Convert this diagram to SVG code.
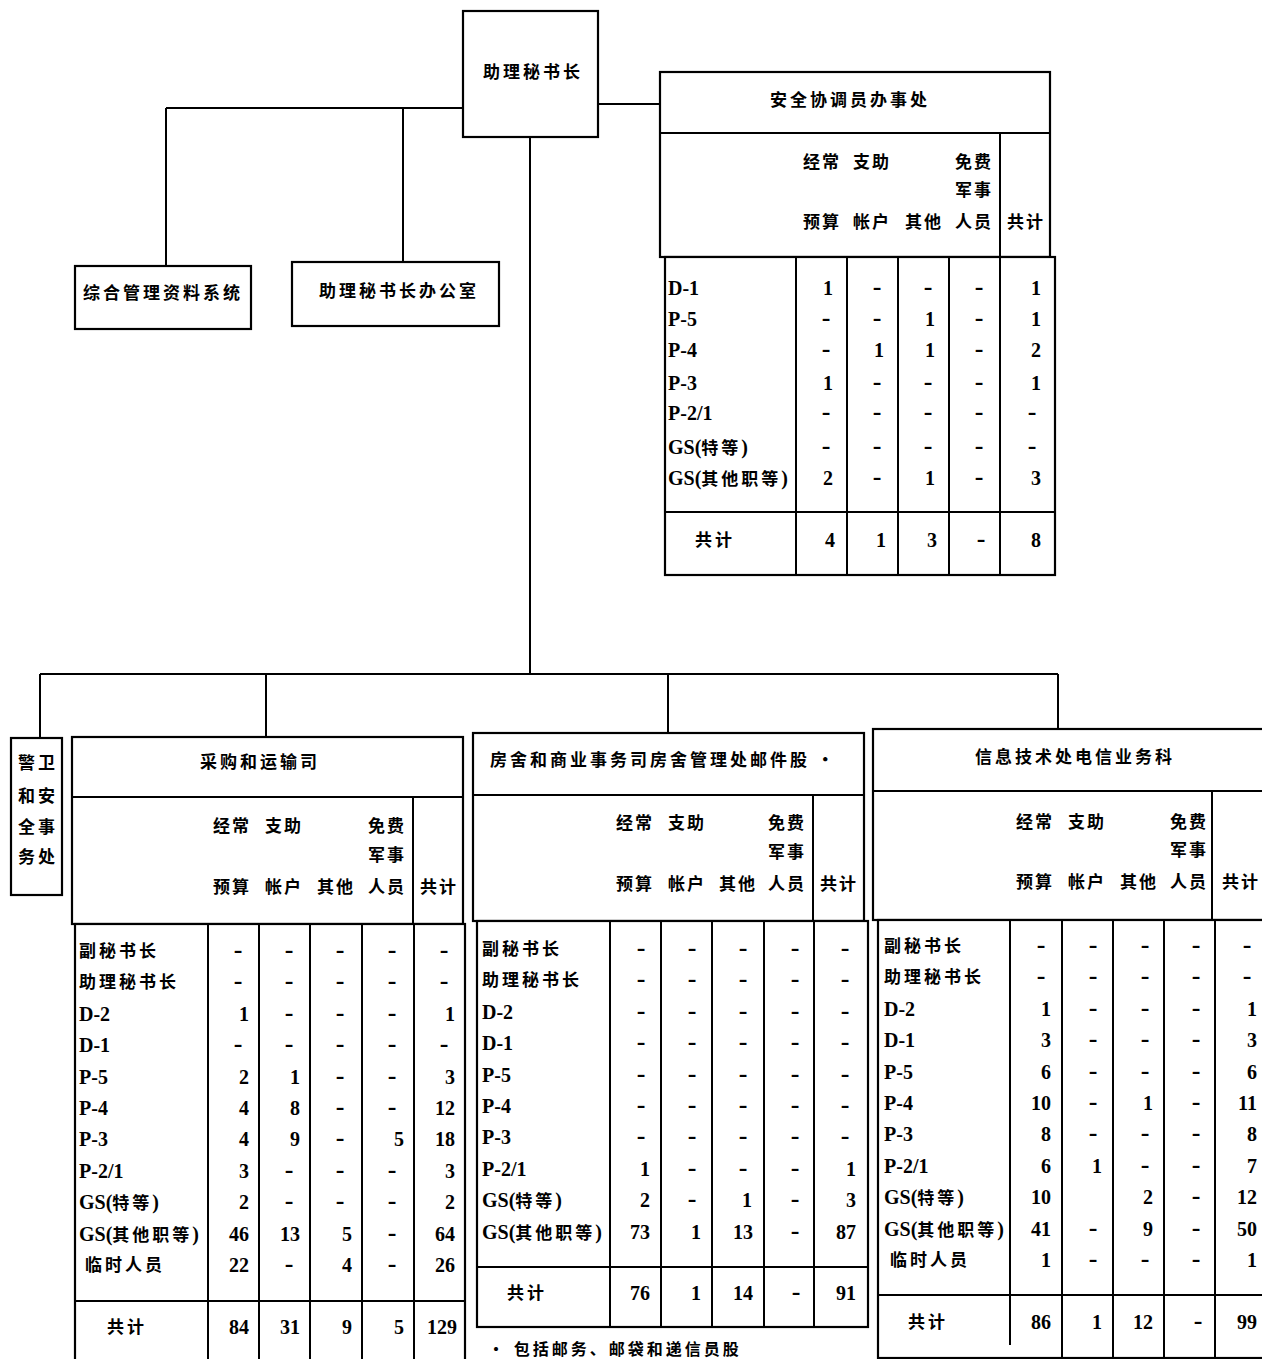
<svg xmlns="http://www.w3.org/2000/svg" width="1262" height="1359" viewBox="0 0 1262 1359">
<style>
.bg{fill:#fff}
.bx{fill:#fff;stroke:#000;stroke-width:2.2}
.ln{stroke:#000;stroke-width:2;fill:none}
.cj{font-family:"Noto Sans CJK SC",sans-serif;font-weight:700;font-size:17px;letter-spacing:3px;fill:#000}
.hd{font-family:"Noto Sans CJK SC",sans-serif;font-weight:700;font-size:17px;letter-spacing:2px;fill:#000}
.mn{font-family:"Liberation Serif","Noto Sans CJK SC",serif;font-weight:700;font-size:20px;fill:#000}
.mn tspan.c{font-family:"Noto Sans CJK SC",sans-serif;font-size:17px;letter-spacing:3px}
.e{text-anchor:end}
.m{text-anchor:middle;font-size:26px}
.fn{font-family:"Noto Sans CJK SC",sans-serif;font-weight:700;font-size:16px;letter-spacing:3px;fill:#000}
</style>
<rect class="bg" x="0" y="0" width="1262" height="1359"/>

<g id="connectors">
<path class="ln" d="M166 108 H463 M166 108 V266 M403 108 V262"/>
<path class="ln" d="M598 104 H660"/>
<path class="ln" d="M530 137 V674"/>
<path class="ln" d="M40 674 H1058 M40 674 V738 M266 674 V737 M668 674 V733 M1058 674 V729"/>
</g>

<g id="asg">
<rect class="bx" x="463" y="11" width="135" height="126"/>
<text class="cj" x="483" y="78">助理秘书长</text>
</g>

<g id="imis">
<rect class="bx" x="75" y="266" width="176" height="63"/>
<text class="cj" x="83" y="299">综合管理资料系统</text>
</g>

<g id="asg-office">
<rect class="bx" x="292" y="262" width="207" height="64"/>
<text class="cj" x="319" y="297">助理秘书长办公室</text>
</g>

<g id="security-coord">
<rect class="bx" x="660" y="72" width="390" height="185"/>
<path class="ln" d="M660 133 H1050 M1000 133 V257"/>
<text class="cj" x="770" y="106">安全协调员办事处</text>
<text class="hd" x="803" y="168">经常</text><text class="hd" x="853" y="168">支助</text><text class="hd" x="955" y="168">免费</text>
<text class="hd" x="955" y="196">军事</text>
<text class="hd" x="803" y="228">预算</text><text class="hd" x="853" y="228">帐户</text><text class="hd" x="905" y="228">其他</text><text class="hd" x="955" y="228">人员</text><text class="hd" x="1007" y="228">共计</text>
<rect class="bx" x="665" y="257" width="390" height="318"/>
<path class="ln" d="M796 257 V575 M847 257 V575 M898 257 V575 M949 257 V575 M1000 257 V575 M665 512 H1055"/>
<text class="mn" x="668" y="295">D-1</text>
<text class="mn" x="668" y="326">P-5</text>
<text class="mn" x="668" y="357">P-4</text>
<text class="mn" x="668" y="390">P-3</text>
<text class="mn" x="668" y="420">P-2/1</text>
<text class="mn" x="668" y="454">GS(<tspan class="c">特等</tspan>)</text>
<text class="mn" x="668" y="485">GS(<tspan class="c">其他职等</tspan>)</text>
<text class="cj" x="695" y="546">共计</text>
<g class="mn">
<text class="e" x="833" y="295">1</text><text class="m" x="877" y="295">-</text><text class="m" x="928" y="295">-</text><text class="m" x="979" y="295">-</text><text class="e" x="1041" y="295">1</text>
<text class="m" x="826" y="326">-</text><text class="m" x="877" y="326">-</text><text class="e" x="935" y="326">1</text><text class="m" x="979" y="326">-</text><text class="e" x="1041" y="326">1</text>
<text class="m" x="826" y="357">-</text><text class="e" x="884" y="357">1</text><text class="e" x="935" y="357">1</text><text class="m" x="979" y="357">-</text><text class="e" x="1041" y="357">2</text>
<text class="e" x="833" y="390">1</text><text class="m" x="877" y="390">-</text><text class="m" x="928" y="390">-</text><text class="m" x="979" y="390">-</text><text class="e" x="1041" y="390">1</text>
<text class="m" x="826" y="420">-</text><text class="m" x="877" y="420">-</text><text class="m" x="928" y="420">-</text><text class="m" x="979" y="420">-</text><text class="m" x="1032" y="420">-</text>
<text class="m" x="826" y="454">-</text><text class="m" x="877" y="454">-</text><text class="m" x="928" y="454">-</text><text class="m" x="979" y="454">-</text><text class="m" x="1032" y="454">-</text>
<text class="e" x="833" y="485">2</text><text class="m" x="877" y="485">-</text><text class="e" x="935" y="485">1</text><text class="m" x="979" y="485">-</text><text class="e" x="1041" y="485">3</text>
<text class="e" x="835" y="547">4</text><text class="e" x="886" y="547">1</text><text class="e" x="937" y="547">3</text><text class="m" x="981" y="547">-</text><text class="e" x="1041" y="547">8</text>
</g>
</g>

<g id="security-safety">
<rect class="bx" x="11" y="738" width="51" height="157"/>
<text class="cj" x="18" y="769">警卫</text>
<text class="cj" x="18" y="802">和安</text>
<text class="cj" x="18" y="833">全事</text>
<text class="cj" x="18" y="863">务处</text>
</g>

<g id="procurement">
<rect class="bx" x="72" y="737" width="391" height="187"/>
<path class="ln" d="M72 797 H463 M413 797 V924"/>
<text class="cj" x="200" y="768">采购和运输司</text>
<text class="hd" x="213" y="832">经常</text><text class="hd" x="265" y="832">支助</text><text class="hd" x="368" y="832">免费</text>
<text class="hd" x="368" y="861">军事</text>
<text class="hd" x="213" y="893">预算</text><text class="hd" x="265" y="893">帐户</text><text class="hd" x="317" y="893">其他</text><text class="hd" x="368" y="893">人员</text><text class="hd" x="420" y="893">共计</text>
<rect class="bx" x="75" y="924" width="390" height="445"/>
<path class="ln" d="M208 924 V1369 M259 924 V1369 M310 924 V1369 M362 924 V1369 M414 924 V1369 M75 1301 H465"/>
<text class="cj" x="79" y="957">副秘书长</text>
<text class="cj" x="79" y="988">助理秘书长</text>
<text class="mn" x="79" y="1021">D-2</text>
<text class="mn" x="79" y="1052">D-1</text>
<text class="mn" x="79" y="1084">P-5</text>
<text class="mn" x="79" y="1115">P-4</text>
<text class="mn" x="79" y="1146">P-3</text>
<text class="mn" x="79" y="1178">P-2/1</text>
<text class="mn" x="79" y="1209">GS(<tspan class="c">特等</tspan>)</text>
<text class="mn" x="79" y="1241">GS(<tspan class="c">其他职等</tspan>)</text>
<text class="cj" x="85" y="1271">临时人员</text>
<text class="cj" x="107" y="1333">共计</text>
<g class="mn">
<text class="m" x="238" y="958">-</text><text class="m" x="289" y="958">-</text><text class="m" x="340" y="958">-</text><text class="m" x="392" y="958">-</text><text class="m" x="444" y="958">-</text>
<text class="m" x="238" y="989">-</text><text class="m" x="289" y="989">-</text><text class="m" x="340" y="989">-</text><text class="m" x="392" y="989">-</text><text class="m" x="444" y="989">-</text>
<text class="e" x="249" y="1021">1</text><text class="m" x="289" y="1021">-</text><text class="m" x="340" y="1021">-</text><text class="m" x="392" y="1021">-</text><text class="e" x="455" y="1021">1</text>
<text class="m" x="238" y="1052">-</text><text class="m" x="289" y="1052">-</text><text class="m" x="340" y="1052">-</text><text class="m" x="392" y="1052">-</text><text class="m" x="444" y="1052">-</text>
<text class="e" x="249" y="1084">2</text><text class="e" x="300" y="1084">1</text><text class="m" x="340" y="1084">-</text><text class="m" x="392" y="1084">-</text><text class="e" x="455" y="1084">3</text>
<text class="e" x="249" y="1115">4</text><text class="e" x="300" y="1115">8</text><text class="m" x="340" y="1115">-</text><text class="m" x="392" y="1115">-</text><text class="e" x="455" y="1115">12</text>
<text class="e" x="249" y="1146">4</text><text class="e" x="300" y="1146">9</text><text class="m" x="340" y="1146">-</text><text class="e" x="404" y="1146">5</text><text class="e" x="455" y="1146">18</text>
<text class="e" x="249" y="1178">3</text><text class="m" x="289" y="1178">-</text><text class="m" x="340" y="1178">-</text><text class="m" x="392" y="1178">-</text><text class="e" x="455" y="1178">3</text>
<text class="e" x="249" y="1209">2</text><text class="m" x="289" y="1209">-</text><text class="m" x="340" y="1209">-</text><text class="m" x="392" y="1209">-</text><text class="e" x="455" y="1209">2</text>
<text class="e" x="249" y="1241">46</text><text class="e" x="300" y="1241">13</text><text class="e" x="352" y="1241">5</text><text class="m" x="392" y="1241">-</text><text class="e" x="455" y="1241">64</text>
<text class="e" x="249" y="1272">22</text><text class="m" x="289" y="1272">-</text><text class="e" x="352" y="1272">4</text><text class="m" x="392" y="1272">-</text><text class="e" x="455" y="1272">26</text>
<text class="e" x="249" y="1334">84</text><text class="e" x="300" y="1334">31</text><text class="e" x="352" y="1334">9</text><text class="e" x="404" y="1334">5</text><text class="e" x="457" y="1334">129</text>
</g>
</g>

<g id="mail-unit">
<rect class="bx" x="473" y="733" width="391" height="188"/>
<path class="ln" d="M473 795 H864 M813 795 V921"/>
<text class="cj" x="490" y="766">房舍和商业事务司房舍管理处邮件股 •</text>
<text class="hd" x="616" y="829">经常</text><text class="hd" x="668" y="829">支助</text><text class="hd" x="768" y="829">免费</text>
<text class="hd" x="768" y="858">军事</text>
<text class="hd" x="616" y="890">预算</text><text class="hd" x="668" y="890">帐户</text><text class="hd" x="719" y="890">其他</text><text class="hd" x="768" y="890">人员</text><text class="hd" x="820" y="890">共计</text>
<rect class="bx" x="477" y="921" width="391" height="406"/>
<path class="ln" d="M610 921 V1327 M661 921 V1327 M712 921 V1327 M764 921 V1327 M814 921 V1327 M477 1267 H868"/>
<text class="cj" x="482" y="955">副秘书长</text>
<text class="cj" x="482" y="986">助理秘书长</text>
<text class="mn" x="482" y="1019">D-2</text>
<text class="mn" x="482" y="1050">D-1</text>
<text class="mn" x="482" y="1082">P-5</text>
<text class="mn" x="482" y="1113">P-4</text>
<text class="mn" x="482" y="1144">P-3</text>
<text class="mn" x="482" y="1176">P-2/1</text>
<text class="mn" x="482" y="1207">GS(<tspan class="c">特等</tspan>)</text>
<text class="mn" x="482" y="1239">GS(<tspan class="c">其他职等</tspan>)</text>
<text class="cj" x="507" y="1299">共计</text>
<g class="mn">
<text class="m" x="641" y="956">-</text><text class="m" x="692" y="956">-</text><text class="m" x="743" y="956">-</text><text class="m" x="795" y="956">-</text><text class="m" x="845" y="956">-</text>
<text class="m" x="641" y="987">-</text><text class="m" x="692" y="987">-</text><text class="m" x="743" y="987">-</text><text class="m" x="795" y="987">-</text><text class="m" x="845" y="987">-</text>
<text class="m" x="641" y="1019">-</text><text class="m" x="692" y="1019">-</text><text class="m" x="743" y="1019">-</text><text class="m" x="795" y="1019">-</text><text class="m" x="845" y="1019">-</text>
<text class="m" x="641" y="1050">-</text><text class="m" x="692" y="1050">-</text><text class="m" x="743" y="1050">-</text><text class="m" x="795" y="1050">-</text><text class="m" x="845" y="1050">-</text>
<text class="m" x="641" y="1082">-</text><text class="m" x="692" y="1082">-</text><text class="m" x="743" y="1082">-</text><text class="m" x="795" y="1082">-</text><text class="m" x="845" y="1082">-</text>
<text class="m" x="641" y="1113">-</text><text class="m" x="692" y="1113">-</text><text class="m" x="743" y="1113">-</text><text class="m" x="795" y="1113">-</text><text class="m" x="845" y="1113">-</text>
<text class="m" x="641" y="1144">-</text><text class="m" x="692" y="1144">-</text><text class="m" x="743" y="1144">-</text><text class="m" x="795" y="1144">-</text><text class="m" x="845" y="1144">-</text>
<text class="e" x="650" y="1176">1</text><text class="m" x="692" y="1176">-</text><text class="m" x="743" y="1176">-</text><text class="m" x="795" y="1176">-</text><text class="e" x="856" y="1176">1</text>
<text class="e" x="650" y="1207">2</text><text class="m" x="692" y="1207">-</text><text class="e" x="752" y="1207">1</text><text class="m" x="795" y="1207">-</text><text class="e" x="856" y="1207">3</text>
<text class="e" x="650" y="1239">73</text><text class="e" x="701" y="1239">1</text><text class="e" x="753" y="1239">13</text><text class="m" x="795" y="1239">-</text><text class="e" x="856" y="1239">87</text>
<text class="e" x="650" y="1300">76</text><text class="e" x="701" y="1300">1</text><text class="e" x="753" y="1300">14</text><text class="m" x="796" y="1300">-</text><text class="e" x="856" y="1300">91</text>
</g>
</g>

<g id="telecom">
<rect class="bx" x="873" y="729" width="400" height="191"/>
<path class="ln" d="M873 791 H1273 M1212 791 V920"/>
<text class="cj" x="975" y="763">信息技术处电信业务科</text>
<text class="hd" x="1016" y="828">经常</text><text class="hd" x="1068" y="828">支助</text><text class="hd" x="1170" y="828">免费</text>
<text class="hd" x="1170" y="856">军事</text>
<text class="hd" x="1016" y="888">预算</text><text class="hd" x="1068" y="888">帐户</text><text class="hd" x="1120" y="888">其他</text><text class="hd" x="1170" y="888">人员</text><text class="hd" x="1222" y="888">共计</text>
<rect class="bx" x="878" y="920" width="400" height="438"/>
<path class="ln" d="M1010 920 V1345 M1062 920 V1358 M1113 920 V1358 M1164 920 V1358 M1215 920 V1358 M878 1295 H1278"/>
<text class="cj" x="884" y="952">副秘书长</text>
<text class="cj" x="884" y="983">助理秘书长</text>
<text class="mn" x="884" y="1016">D-2</text>
<text class="mn" x="884" y="1047">D-1</text>
<text class="mn" x="884" y="1079">P-5</text>
<text class="mn" x="884" y="1110">P-4</text>
<text class="mn" x="884" y="1141">P-3</text>
<text class="mn" x="884" y="1173">P-2/1</text>
<text class="mn" x="884" y="1204">GS(<tspan class="c">特等</tspan>)</text>
<text class="mn" x="884" y="1236">GS(<tspan class="c">其他职等</tspan>)</text>
<text class="cj" x="890" y="1266">临时人员</text>
<text class="cj" x="908" y="1328">共计</text>
<g class="mn">
<text class="m" x="1041" y="953">-</text><text class="m" x="1093" y="953">-</text><text class="m" x="1145" y="953">-</text><text class="m" x="1196" y="953">-</text><text class="m" x="1247" y="953">-</text>
<text class="m" x="1041" y="984">-</text><text class="m" x="1093" y="984">-</text><text class="m" x="1145" y="984">-</text><text class="m" x="1196" y="984">-</text><text class="m" x="1247" y="984">-</text>
<text class="e" x="1051" y="1016">1</text><text class="m" x="1093" y="1016">-</text><text class="m" x="1145" y="1016">-</text><text class="m" x="1196" y="1016">-</text><text class="e" x="1257" y="1016">1</text>
<text class="e" x="1051" y="1047">3</text><text class="m" x="1093" y="1047">-</text><text class="m" x="1145" y="1047">-</text><text class="m" x="1196" y="1047">-</text><text class="e" x="1257" y="1047">3</text>
<text class="e" x="1051" y="1079">6</text><text class="m" x="1093" y="1079">-</text><text class="m" x="1145" y="1079">-</text><text class="m" x="1196" y="1079">-</text><text class="e" x="1257" y="1079">6</text>
<text class="e" x="1051" y="1110">10</text><text class="m" x="1093" y="1110">-</text><text class="e" x="1153" y="1110">1</text><text class="m" x="1196" y="1110">-</text><text class="e" x="1257" y="1110">11</text>
<text class="e" x="1051" y="1141">8</text><text class="m" x="1093" y="1141">-</text><text class="m" x="1145" y="1141">-</text><text class="m" x="1196" y="1141">-</text><text class="e" x="1257" y="1141">8</text>
<text class="e" x="1051" y="1173">6</text><text class="e" x="1102" y="1173">1</text><text class="m" x="1145" y="1173">-</text><text class="m" x="1196" y="1173">-</text><text class="e" x="1257" y="1173">7</text>
<text class="e" x="1051" y="1204">10</text><text class="e" x="1153" y="1204">2</text><text class="m" x="1196" y="1204">-</text><text class="e" x="1257" y="1204">12</text>
<text class="e" x="1051" y="1236">41</text><text class="m" x="1093" y="1236">-</text><text class="e" x="1153" y="1236">9</text><text class="m" x="1196" y="1236">-</text><text class="e" x="1257" y="1236">50</text>
<text class="e" x="1051" y="1267">1</text><text class="m" x="1093" y="1267">-</text><text class="m" x="1145" y="1267">-</text><text class="m" x="1196" y="1267">-</text><text class="e" x="1257" y="1267">1</text>
<text class="e" x="1051" y="1329">86</text><text class="e" x="1102" y="1329">1</text><text class="e" x="1153" y="1329">12</text><text class="m" x="1198" y="1329">-</text><text class="e" x="1257" y="1329">99</text>
</g>
</g>

<text class="fn" x="488" y="1355">•  包括邮务、邮袋和递信员股</text>
</svg>
